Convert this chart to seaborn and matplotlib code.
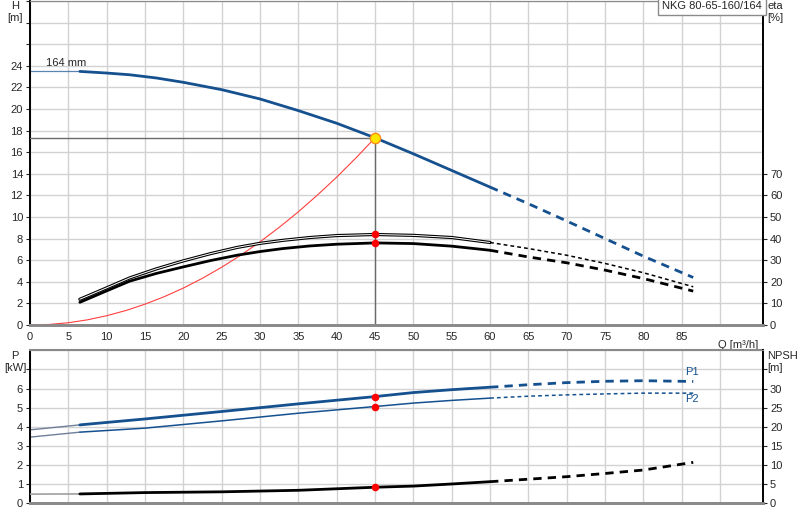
import matplotlib
matplotlib.use("Agg")
import matplotlib.pyplot as plt
import seaborn as sns
import numpy as np
import pandas as pd

# ---- data ----
pump_name = "NKG 80-65-160/164"
impeller = "164 mm"

q_h = [6.5, 10, 13, 16.5, 20, 25, 30, 35, 40, 45, 50, 55, 60, 65, 70, 75,
       80, 86.5]
head = [23.48, 23.33, 23.17, 22.87, 22.47, 21.79, 20.93, 19.85, 18.68, 17.33,
        15.85, 14.31, 12.77, 11.23, 9.63, 8.0, 6.37, 4.4]

q_eta = [6.5, 10, 13, 16.5, 20, 23.5, 27, 30, 33, 36.5, 40, 45, 50, 55, 60,
         65, 70, 75, 80, 86.5]
eta_upper = [11.9, 17.2, 21.8, 26.0, 29.7, 33.0, 35.9, 37.8, 39.2, 40.5,
             41.4, 41.9, 41.5, 40.5, 38.2, 35.4, 32.3, 28.5, 24.2, 17.7]
eta_lower = [10.5, 15.8, 20.3, 23.9, 26.9, 29.8, 32.3, 34.0, 35.4, 36.6,
             37.4, 38.0, 37.7, 36.5, 34.6, 31.5, 28.8, 25.4, 21.5, 15.7]

q_sys = [0, 2.5, 5, 7.5, 10, 12.5, 15, 17.5, 20, 22.5, 25, 27.5, 30, 32.5,
         35, 37.5, 40, 42.5, 45]
h_sys = [0, 0.05, 0.21, 0.48, 0.86, 1.34, 1.93, 2.62, 3.42, 4.33, 5.35, 6.47,
         7.7, 9.04, 10.48, 12.04, 13.69, 15.46, 17.33]

q_p = [0, 6.5, 15, 25, 35, 45, 50, 55, 60, 65, 70, 75, 80, 86.5]
p1 = [3.84, 4.1, 4.41, 4.8, 5.2, 5.58, 5.79, 5.94, 6.07, 6.2, 6.31, 6.38,
      6.41, 6.37]
p2 = [3.46, 3.72, 3.93, 4.31, 4.71, 5.06, 5.24, 5.38, 5.5, 5.6, 5.67, 5.72,
      5.76, 5.76]

q_npsh = [0, 6.5, 15, 25, 35, 45, 50, 55, 60, 65, 70, 75, 80, 86.5]
npsh = [2.4, 2.45, 2.8, 3.0, 3.4, 4.2, 4.5, 5.05, 5.65, 6.3, 6.96, 7.8, 8.7,
        10.7]

duty_q = 45
duty_h = 17.33
q_min = 6.5       # start of the operating range
q_solid_end = 60  # curves dashed beyond this flow

BLUE = "#15508f"
GRID = "#d2d2d2"
FONT = 8

sns.set_style("white")
plt.rcParams['font.family'] = ['Liberation Sans', 'DejaVu Sans']
plt.rcParams['font.size'] = FONT


def split(q, y, lo, hi):
    q = np.asarray(q, float)
    y = np.asarray(y, float)
    m = (q >= lo) & (q <= hi)
    return pd.DataFrame({"q": q[m], "y": y[m]})


def line(ax, q, y, lo, hi, **kw):
    d = split(q, y, lo, hi)
    sns.lineplot(data=d, x="q", y="y", ax=ax, sort=False, estimator=None,
                 legend=False, **kw)


def style_axes(ax, right):
    ax.spines["left"].set_color("black")
    ax.spines["left"].set_linewidth(1.4)
    right.spines["right"].set_color("black")
    right.spines["right"].set_linewidth(1.4)
    for a in (ax, right):
        a.spines["top"].set_color("#8a8a8a")
        a.spines["bottom"].set_color("#8a8a8a")
        a.spines["bottom"].set_linewidth(2)
        a.spines["left"].set_visible(a is ax)
        a.spines["right"].set_visible(a is right)
    ax.grid(True, color=GRID, linewidth=1)
    ax.set_axisbelow(True)
    ax.tick_params(axis="y", length=3, width=0.8, pad=2, labelsize=FONT)
    right.tick_params(axis="y", length=3, width=0.8, pad=2, labelsize=FONT)


fig = plt.figure(figsize=(8, 5.2), dpi=100)
W, H = 800, 520
ax_h = fig.add_axes([30 / W, 195 / H, 733 / W, 324 / H])
ax_eta = ax_h.twinx()
ax_p = fig.add_axes([30 / W, 16.7 / H, 733 / W, 153 / H])
ax_np = ax_p.twinx()

xmax = 95.6

# ---- head / efficiency panel ----
# duty point guide lines
ax_h.plot([0, duty_q], [duty_h, duty_h], color="#6a6a6a", lw=1, zorder=3)
ax_h.plot([duty_q, duty_q], [0, duty_h], color="#6a6a6a", lw=1, zorder=3)

# system curve
line(ax_h, q_sys, h_sys, 0, duty_q, color="#ff4040", lw=0.8, zorder=4)

# head curve
ax_h.plot([0, q_min], [head[0], head[0]], color=BLUE, lw=0.9, alpha=0.7)
line(ax_h, q_h, head, q_min, q_solid_end, color=BLUE, lw=2, zorder=5)
line(ax_h, q_h, head, q_solid_end, 100, color=BLUE, lw=2, zorder=5,
     dashes=(3, 2.2))
ax_h.text(4.7, 24.3, impeller, ha="center", va="center", fontsize=FONT)

# efficiency curves
line(ax_eta, q_eta, eta_upper, q_min, q_solid_end, color="black", lw=2.3)
line(ax_eta, q_eta, eta_upper, q_min, q_solid_end, color="white", lw=0.7)
line(ax_eta, q_eta, eta_upper, q_solid_end, 100, color="black", lw=1.1,
     dashes=(2.5, 2))
line(ax_eta, q_eta, eta_lower, q_min, q_solid_end, color="black", lw=2)
line(ax_eta, q_eta, eta_lower, q_solid_end, 100, color="black", lw=2,
     dashes=(3, 2.2))

ax_eta.scatter([duty_q, duty_q],
               [np.interp(duty_q, q_eta, eta_upper),
                np.interp(duty_q, q_eta, eta_lower)],
               s=30, color="red", zorder=6, linewidths=0)
ax_eta.scatter([duty_q], [duty_h * 5], s=55, color="#ffe600",
               edgecolors="#ff8c1a", linewidths=1, zorder=7)

ax_eta.text(0.9985, 0.999, pump_name, transform=ax_eta.transAxes, ha="right",
            va="top", fontsize=FONT,
            bbox=dict(boxstyle="square,pad=0.35", facecolor="white",
                      edgecolor="#8a8a8a", linewidth=1))

# ---- power / NPSH panel ----
ax_p.plot([0, q_min], [p1[0], p1[1]], color="#6f7f9a", lw=1)
line(ax_p, q_p, p1, q_min, q_solid_end, color=BLUE, lw=2)
line(ax_p, q_p, p1, q_solid_end, 100, color=BLUE, lw=2, dashes=(3, 2.2))
ax_p.plot([0, q_min], [p2[0], p2[1]], color="#6f7f9a", lw=1)
line(ax_p, q_p, p2, q_min, q_solid_end, color=BLUE, lw=1.1)
line(ax_p, q_p, p2, q_solid_end, 100, color=BLUE, lw=1.1, dashes=(2.5, 2))

ax_np.plot([0, q_min], [npsh[0], npsh[1]], color="#a0a0a0", lw=1.2)
line(ax_np, q_npsh, npsh, q_min, q_solid_end, color="black", lw=2)
line(ax_np, q_npsh, npsh, q_solid_end, 100, color="black", lw=2,
     dashes=(3, 2.2))

ax_p.scatter([duty_q, duty_q],
             [np.interp(duty_q, q_p, p1), np.interp(duty_q, q_p, p2)],
             s=30, color="red", zorder=6, linewidths=0)
ax_np.scatter([duty_q], [np.interp(duty_q, q_npsh, npsh)], s=30,
              color="red", zorder=6, linewidths=0)

ax_p.text(86.3, 6.85, "P1", color=BLUE, ha="center", va="center",
          fontsize=FONT)
ax_p.text(86.3, 5.45, "P2", color=BLUE, ha="center", va="center",
          fontsize=FONT)

# ---- axes, ticks and labels ----
for a in (ax_h, ax_eta, ax_p, ax_np):
    a.set_xlim(0, xmax)
    a.set_xlabel("")
    a.set_ylabel("")
    a.patch.set_alpha(0)
ax_h.patch.set_alpha(1)
ax_p.patch.set_alpha(1)

ax_h.set_ylim(0, 30)
ax_eta.set_ylim(0, 150)
xt = list(range(0, 95, 5))
ax_h.set_xticks(xt)
ax_h.set_xticklabels([str(v) if v < 90 else "" for v in xt])
ax_h.tick_params(axis="x", length=3, width=0.8, pad=2, labelsize=FONT,
                 direction="out")
ax_h.text(92.3, -0.045, "Q [m³/h]", transform=ax_h.get_xaxis_transform(),
          ha="center", va="top", fontsize=FONT)
yt = list(range(0, 31, 2))
ax_h.set_yticks(yt)
ax_h.set_yticklabels([str(v) if v <= 24 else "" for v in yt])
et = list(range(0, 80, 10))
ax_eta.set_yticks(et)
ax_eta.set_yticklabels([str(v) for v in et])
style_axes(ax_h, ax_eta)

ax_p.set_ylim(0, 8)
ax_np.set_ylim(0, 40)
ax_p.set_xticks(xt)
ax_p.set_xticklabels([])
ax_p.tick_params(axis="x", length=0)
pt = list(range(0, 8))
ax_p.set_yticks(pt)
ax_p.set_yticklabels([str(v) if v <= 6 else "" for v in pt])
nt = list(range(0, 40, 5))
ax_np.set_yticks(nt)
ax_np.set_yticklabels([str(v) if v <= 30 else "" for v in nt])
style_axes(ax_p, ax_np)
ax_p.spines["top"].set_linewidth(1.5)

fig.text(15 / W, 1 - 12 / H, "H\n[m]", ha="center", va="center",
         fontsize=FONT, linespacing=1.15)
fig.text(767 / W, 1 - 12 / H, "eta\n[%]", ha="left", va="center",
         fontsize=FONT, linespacing=1.15)
fig.text(15 / W, 1 - 362 / H, "P\n[kW]", ha="center", va="center",
         fontsize=FONT, linespacing=1.15)
fig.text(767 / W, 1 - 362 / H, "NPSH\n[m]", ha="left", va="center",
         fontsize=FONT, linespacing=1.15)

fig.savefig("out.png", dpi=100)
